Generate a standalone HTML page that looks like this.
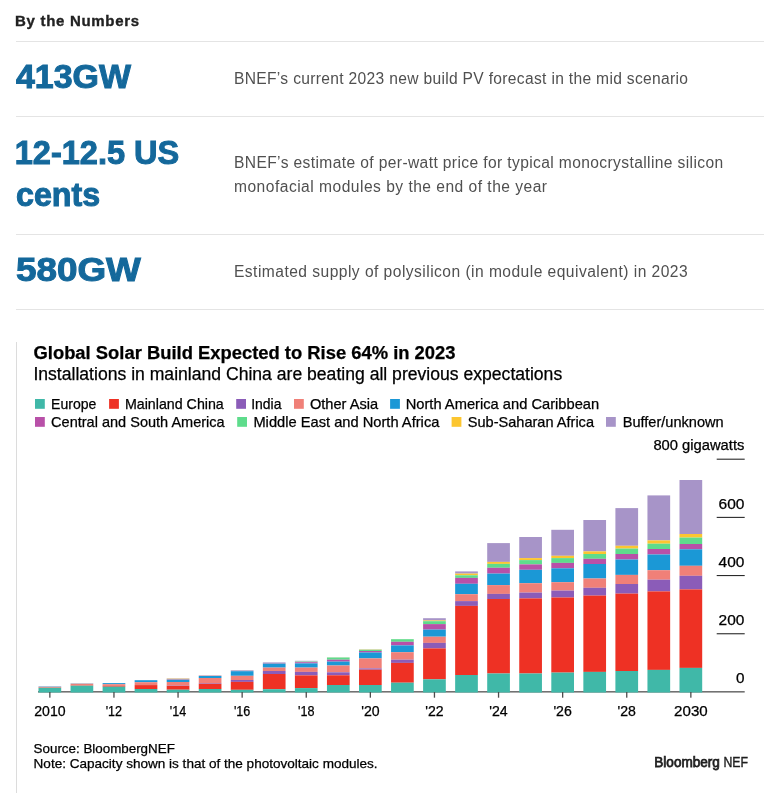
<!DOCTYPE html>
<html lang="en"><head><meta charset="utf-8"><title>By the Numbers</title>
<style>
html,body{margin:0;padding:0;background:#fff;}
body{width:769px;height:793px;position:relative;overflow:hidden;font-family:"Liberation Sans",Arial,Helvetica,sans-serif;}
.hd{position:absolute;left:15px;top:11px;font-size:15px;line-height:20px;font-weight:bold;color:#222;white-space:nowrap;letter-spacing:0.7px;-webkit-text-stroke:0.35px #222;}
.rule{position:absolute;left:16px;width:748px;height:1px;background:#e4e4e4;}
.num{position:absolute;left:15px;font-size:32.8px;line-height:42px;font-weight:bold;color:#14689b;white-space:nowrap;-webkit-text-stroke:1px #14689b;}
.num span{display:inline-block;transform-origin:0 50%;}
#n1{transform:translateX(1px) scaleX(1.033);}
#n2{transform:translateX(-0.3px) scaleX(0.992);}
#n3{transform:translateX(1px) scaleX(0.982);}
#n4{transform:translateX(1px) scaleX(1.123);}
#d1{letter-spacing:0.32px}#d2{letter-spacing:0.38px}#d3{letter-spacing:0.48px}#d4{letter-spacing:0.46px}
.desc{position:absolute;left:234px;font-size:15.6px;line-height:23.6px;color:#505050;white-space:nowrap;}
.chart{position:absolute;left:0;top:320px;display:block;}
</style></head><body>
<div class="hd">By the Numbers</div>
<div class="rule" style="top:41px"></div>
<div class="num" style="top:56.3px"><span id="n1">413GW</span></div>
<div class="desc" style="top:67px"><span id="d1">BNEF’s current 2023 new build PV forecast in the mid scenario</span></div>
<div class="rule" style="top:116px"></div>
<div class="num" style="top:131.6px"><span id="n2">12-12.5 US</span><br><span id="n3">cents</span></div>
<div class="desc" style="top:151px"><span id="d2">BNEF’s estimate of per-watt price for typical monocrystalline silicon</span><br><span id="d3">monofacial modules by the end of the year</span></div>
<div class="rule" style="top:234px"></div>
<div class="num" style="top:249.4px"><span id="n4">580GW</span></div>
<div class="desc" style="top:260px"><span id="d4">Estimated supply of polysilicon (in module equivalent) in 2023</span></div>
<div class="rule" style="top:309px"></div>
<svg class="chart" width="769" height="473" viewBox="0 320 769 473" font-family="'Liberation Sans', Arial, Helvetica, sans-serif">
<rect x="0" y="320" width="769" height="473" fill="#fff"/>
<rect x="16" y="342" width="1" height="451" fill="#dcdcdc"/>
<text x="33.5" y="358.8" font-size="18" font-weight="bold" textLength="422.0" lengthAdjust="spacingAndGlyphs" fill="#000" stroke="#000" stroke-width="0.25">Global Solar Build Expected to Rise 64% in 2023</text>
<text x="33.4" y="379.5" font-size="17.5" textLength="528.8" lengthAdjust="spacingAndGlyphs" fill="#000" stroke="#000" stroke-width="0.25">Installations in mainland China are beating all previous expectations</text>
<rect x="35.0" y="399" width="9.8" height="9.8" fill="#40b8a8"/>
<text x="51.1" y="408.6" font-size="14.4" textLength="45.3" lengthAdjust="spacingAndGlyphs" fill="#000" stroke="#000" stroke-width="0.25">Europe</text>
<rect x="109.1" y="399" width="9.8" height="9.8" fill="#ee3124"/>
<text x="124.9" y="408.6" font-size="14.4" textLength="98.9" lengthAdjust="spacingAndGlyphs" fill="#000" stroke="#000" stroke-width="0.25">Mainland China</text>
<rect x="236.2" y="399" width="9.8" height="9.8" fill="#8b5cb8"/>
<text x="251.2" y="408.6" font-size="14.4" textLength="30.3" lengthAdjust="spacingAndGlyphs" fill="#000" stroke="#000" stroke-width="0.25">India</text>
<rect x="294.0" y="399" width="9.8" height="9.8" fill="#f08078"/>
<text x="309.9" y="408.6" font-size="14.4" textLength="68.3" lengthAdjust="spacingAndGlyphs" fill="#000" stroke="#000" stroke-width="0.25">Other Asia</text>
<rect x="390.1" y="399" width="9.8" height="9.8" fill="#1b98d6"/>
<text x="405.7" y="408.6" font-size="14.4" textLength="193.5" lengthAdjust="spacingAndGlyphs" fill="#000" stroke="#000" stroke-width="0.25">North America and Caribbean</text>
<rect x="35.0" y="417" width="9.8" height="9.8" fill="#b850a8"/>
<text x="51.1" y="426.6" font-size="14.4" textLength="173.6" lengthAdjust="spacingAndGlyphs" fill="#000" stroke="#000" stroke-width="0.25">Central and South America</text>
<rect x="237.2" y="417" width="9.8" height="9.8" fill="#5edc8c"/>
<text x="253.4" y="426.6" font-size="14.4" textLength="186.0" lengthAdjust="spacingAndGlyphs" fill="#000" stroke="#000" stroke-width="0.25">Middle East and North Africa</text>
<rect x="451.6" y="417" width="9.8" height="9.8" fill="#fcc630"/>
<text x="467.8" y="426.6" font-size="14.4" textLength="126.2" lengthAdjust="spacingAndGlyphs" fill="#000" stroke="#000" stroke-width="0.25">Sub-Saharan Africa</text>
<rect x="606.0" y="417" width="9.8" height="9.8" fill="#a794c8"/>
<text x="622.7" y="426.6" font-size="14.4" textLength="101.0" lengthAdjust="spacingAndGlyphs" fill="#000" stroke="#000" stroke-width="0.25">Buffer/unknown</text>
<rect x="716.7" y="458.65" width="28" height="1.1" fill="#2a2a2a"/>
<text x="653.4" y="449.6" font-size="13.8" textLength="91.0" lengthAdjust="spacingAndGlyphs" fill="#000" stroke="#000" stroke-width="0.25">800 gigawatts</text>
<rect x="716.7" y="516.85" width="28" height="1.1" fill="#2a2a2a"/>
<text x="718.5" y="508.6" font-size="13.8" textLength="25.9" lengthAdjust="spacingAndGlyphs" fill="#000" stroke="#000" stroke-width="0.25">600</text>
<rect x="716.7" y="575.00" width="28" height="1.1" fill="#2a2a2a"/>
<text x="718.6" y="566.8" font-size="13.8" textLength="25.8" lengthAdjust="spacingAndGlyphs" fill="#000" stroke="#000" stroke-width="0.25">400</text>
<rect x="716.7" y="633.20" width="28" height="1.1" fill="#2a2a2a"/>
<text x="718.6" y="625.0" font-size="13.8" textLength="25.8" lengthAdjust="spacingAndGlyphs" fill="#000" stroke="#000" stroke-width="0.25">200</text>
<text x="735.9" y="683.1" font-size="13.8" textLength="8.5" lengthAdjust="spacingAndGlyphs" fill="#000" stroke="#000" stroke-width="0.25">0</text>
<rect x="38" y="691.25" width="706.7" height="1.2" fill="#444"/>
<rect x="38.50" y="686.3" width="22.7" height="0.3" fill="#a794c8"/>
<rect x="38.50" y="686.6" width="22.7" height="0.3" fill="#1b98d6"/>
<rect x="38.50" y="686.9" width="22.7" height="0.6" fill="#f08078"/>
<rect x="38.50" y="687.5" width="22.7" height="0.3" fill="#ee3124"/>
<rect x="38.50" y="687.8" width="22.7" height="4.7" fill="#40b8a8"/>
<rect x="70.55" y="683.4" width="22.7" height="0.3" fill="#1b98d6"/>
<rect x="70.55" y="683.7" width="22.7" height="1.6" fill="#f08078"/>
<rect x="70.55" y="685.3" width="22.7" height="0.4" fill="#ee3124"/>
<rect x="70.55" y="685.7" width="22.7" height="6.8" fill="#40b8a8"/>
<rect x="102.60" y="683.1" width="22.7" height="1.1" fill="#1b98d6"/>
<rect x="102.60" y="684.2" width="22.7" height="1.5" fill="#f08078"/>
<rect x="102.60" y="685.7" width="22.7" height="1.0" fill="#ee3124"/>
<rect x="102.60" y="686.7" width="22.7" height="5.8" fill="#40b8a8"/>
<rect x="134.65" y="680.2" width="22.7" height="2.0" fill="#1b98d6"/>
<rect x="134.65" y="682.2" width="22.7" height="2.8" fill="#f08078"/>
<rect x="134.65" y="685.0" width="22.7" height="0.1" fill="#8b5cb8"/>
<rect x="134.65" y="685.1" width="22.7" height="3.9" fill="#ee3124"/>
<rect x="134.65" y="689.0" width="22.7" height="3.5" fill="#40b8a8"/>
<rect x="166.70" y="678.3" width="22.7" height="0.4" fill="#a794c8"/>
<rect x="166.70" y="678.7" width="22.7" height="0.3" fill="#fcc630"/>
<rect x="166.70" y="679.0" width="22.7" height="0.4" fill="#5edc8c"/>
<rect x="166.70" y="679.4" width="22.7" height="0.5" fill="#b850a8"/>
<rect x="166.70" y="679.9" width="22.7" height="2.1" fill="#1b98d6"/>
<rect x="166.70" y="682.0" width="22.7" height="3.5" fill="#f08078"/>
<rect x="166.70" y="685.5" width="22.7" height="0.3" fill="#8b5cb8"/>
<rect x="166.70" y="685.8" width="22.7" height="3.9" fill="#ee3124"/>
<rect x="166.70" y="689.7" width="22.7" height="2.8" fill="#40b8a8"/>
<rect x="198.75" y="675.4" width="22.7" height="0.1" fill="#a794c8"/>
<rect x="198.75" y="675.5" width="22.7" height="0.1" fill="#fcc630"/>
<rect x="198.75" y="675.6" width="22.7" height="0.1" fill="#5edc8c"/>
<rect x="198.75" y="675.7" width="22.7" height="0.3" fill="#b850a8"/>
<rect x="198.75" y="676.0" width="22.7" height="2.0" fill="#1b98d6"/>
<rect x="198.75" y="678.0" width="22.7" height="5.2" fill="#f08078"/>
<rect x="198.75" y="683.2" width="22.7" height="0.6" fill="#8b5cb8"/>
<rect x="198.75" y="683.8" width="22.7" height="5.2" fill="#ee3124"/>
<rect x="198.75" y="689.0" width="22.7" height="3.5" fill="#40b8a8"/>
<rect x="230.80" y="670.2" width="22.7" height="0.6" fill="#a794c8"/>
<rect x="230.80" y="670.8" width="22.7" height="0.1" fill="#5edc8c"/>
<rect x="230.80" y="670.9" width="22.7" height="0.3" fill="#b850a8"/>
<rect x="230.80" y="671.2" width="22.7" height="4.6" fill="#1b98d6"/>
<rect x="230.80" y="675.8" width="22.7" height="4.2" fill="#f08078"/>
<rect x="230.80" y="680.0" width="22.7" height="1.9" fill="#8b5cb8"/>
<rect x="230.80" y="681.9" width="22.7" height="7.9" fill="#ee3124"/>
<rect x="230.80" y="689.8" width="22.7" height="2.7" fill="#40b8a8"/>
<rect x="262.85" y="662.4" width="22.7" height="0.6" fill="#a794c8"/>
<rect x="262.85" y="663.0" width="22.7" height="0.2" fill="#5edc8c"/>
<rect x="262.85" y="663.2" width="22.7" height="0.5" fill="#b850a8"/>
<rect x="262.85" y="663.7" width="22.7" height="3.9" fill="#1b98d6"/>
<rect x="262.85" y="667.6" width="22.7" height="3.4" fill="#f08078"/>
<rect x="262.85" y="671.0" width="22.7" height="3.0" fill="#8b5cb8"/>
<rect x="262.85" y="674.0" width="22.7" height="15.2" fill="#ee3124"/>
<rect x="262.85" y="689.2" width="22.7" height="3.2" fill="#40b8a8"/>
<rect x="294.90" y="660.8" width="22.7" height="0.8" fill="#a794c8"/>
<rect x="294.90" y="661.6" width="22.7" height="0.1" fill="#fcc630"/>
<rect x="294.90" y="661.7" width="22.7" height="0.5" fill="#5edc8c"/>
<rect x="294.90" y="662.2" width="22.7" height="1.2" fill="#b850a8"/>
<rect x="294.90" y="663.4" width="22.7" height="4.2" fill="#1b98d6"/>
<rect x="294.90" y="667.6" width="22.7" height="4.3" fill="#f08078"/>
<rect x="294.90" y="671.9" width="22.7" height="3.5" fill="#8b5cb8"/>
<rect x="294.90" y="675.4" width="22.7" height="12.7" fill="#ee3124"/>
<rect x="294.90" y="688.1" width="22.7" height="4.4" fill="#40b8a8"/>
<rect x="326.95" y="657.3" width="22.7" height="0.1" fill="#a794c8"/>
<rect x="326.95" y="657.4" width="22.7" height="0.1" fill="#fcc630"/>
<rect x="326.95" y="657.5" width="22.7" height="2.2" fill="#5edc8c"/>
<rect x="326.95" y="659.7" width="22.7" height="1.9" fill="#b850a8"/>
<rect x="326.95" y="661.6" width="22.7" height="3.9" fill="#1b98d6"/>
<rect x="326.95" y="665.5" width="22.7" height="6.8" fill="#f08078"/>
<rect x="326.95" y="672.3" width="22.7" height="3.0" fill="#8b5cb8"/>
<rect x="326.95" y="675.3" width="22.7" height="9.7" fill="#ee3124"/>
<rect x="326.95" y="685.0" width="22.7" height="7.5" fill="#40b8a8"/>
<rect x="359.00" y="649.3" width="22.7" height="0.2" fill="#a794c8"/>
<rect x="359.00" y="649.5" width="22.7" height="0.3" fill="#fcc630"/>
<rect x="359.00" y="649.8" width="22.7" height="1.2" fill="#5edc8c"/>
<rect x="359.00" y="651.0" width="22.7" height="1.5" fill="#b850a8"/>
<rect x="359.00" y="652.5" width="22.7" height="5.9" fill="#1b98d6"/>
<rect x="359.00" y="658.4" width="22.7" height="10.0" fill="#f08078"/>
<rect x="359.00" y="668.4" width="22.7" height="1.3" fill="#8b5cb8"/>
<rect x="359.00" y="669.7" width="22.7" height="15.3" fill="#ee3124"/>
<rect x="359.00" y="685.0" width="22.7" height="7.5" fill="#40b8a8"/>
<rect x="391.05" y="639.0" width="22.7" height="0.1" fill="#a794c8"/>
<rect x="391.05" y="639.1" width="22.7" height="0.1" fill="#fcc630"/>
<rect x="391.05" y="639.2" width="22.7" height="2.6" fill="#5edc8c"/>
<rect x="391.05" y="641.8" width="22.7" height="3.6" fill="#b850a8"/>
<rect x="391.05" y="645.4" width="22.7" height="6.8" fill="#1b98d6"/>
<rect x="391.05" y="652.2" width="22.7" height="7.5" fill="#f08078"/>
<rect x="391.05" y="659.7" width="22.7" height="3.2" fill="#8b5cb8"/>
<rect x="391.05" y="662.9" width="22.7" height="19.8" fill="#ee3124"/>
<rect x="391.05" y="682.7" width="22.7" height="9.8" fill="#40b8a8"/>
<rect x="423.10" y="618.2" width="22.7" height="2.3" fill="#a794c8"/>
<rect x="423.10" y="620.5" width="22.7" height="0.7" fill="#fcc630"/>
<rect x="423.10" y="621.2" width="22.7" height="2.9" fill="#5edc8c"/>
<rect x="423.10" y="624.1" width="22.7" height="5.5" fill="#b850a8"/>
<rect x="423.10" y="629.6" width="22.7" height="7.1" fill="#1b98d6"/>
<rect x="423.10" y="636.7" width="22.7" height="6.2" fill="#f08078"/>
<rect x="423.10" y="642.9" width="22.7" height="5.5" fill="#8b5cb8"/>
<rect x="423.10" y="648.4" width="22.7" height="30.9" fill="#ee3124"/>
<rect x="423.10" y="679.3" width="22.7" height="13.2" fill="#40b8a8"/>
<rect x="455.15" y="571.4" width="22.7" height="2.2" fill="#a794c8"/>
<rect x="455.15" y="573.6" width="22.7" height="1.7" fill="#fcc630"/>
<rect x="455.15" y="575.3" width="22.7" height="2.6" fill="#5edc8c"/>
<rect x="455.15" y="577.9" width="22.7" height="5.9" fill="#b850a8"/>
<rect x="455.15" y="583.8" width="22.7" height="10.4" fill="#1b98d6"/>
<rect x="455.15" y="594.2" width="22.7" height="6.9" fill="#f08078"/>
<rect x="455.15" y="601.1" width="22.7" height="4.8" fill="#8b5cb8"/>
<rect x="455.15" y="605.9" width="22.7" height="69.1" fill="#ee3124"/>
<rect x="455.15" y="675.0" width="22.7" height="17.5" fill="#40b8a8"/>
<rect x="487.20" y="543.1" width="22.7" height="18.8" fill="#a794c8"/>
<rect x="487.20" y="561.9" width="22.7" height="2.0" fill="#fcc630"/>
<rect x="487.20" y="563.9" width="22.7" height="3.9" fill="#5edc8c"/>
<rect x="487.20" y="567.8" width="22.7" height="5.8" fill="#b850a8"/>
<rect x="487.20" y="573.6" width="22.7" height="11.5" fill="#1b98d6"/>
<rect x="487.20" y="585.1" width="22.7" height="8.8" fill="#f08078"/>
<rect x="487.20" y="593.9" width="22.7" height="5.1" fill="#8b5cb8"/>
<rect x="487.20" y="599.0" width="22.7" height="74.5" fill="#ee3124"/>
<rect x="487.20" y="673.5" width="22.7" height="19.0" fill="#40b8a8"/>
<rect x="519.25" y="537.0" width="22.7" height="21.1" fill="#a794c8"/>
<rect x="519.25" y="558.1" width="22.7" height="2.0" fill="#fcc630"/>
<rect x="519.25" y="560.1" width="22.7" height="4.3" fill="#5edc8c"/>
<rect x="519.25" y="564.4" width="22.7" height="5.4" fill="#b850a8"/>
<rect x="519.25" y="569.8" width="22.7" height="13.4" fill="#1b98d6"/>
<rect x="519.25" y="583.2" width="22.7" height="9.4" fill="#f08078"/>
<rect x="519.25" y="592.6" width="22.7" height="5.8" fill="#8b5cb8"/>
<rect x="519.25" y="598.4" width="22.7" height="75.1" fill="#ee3124"/>
<rect x="519.25" y="673.5" width="22.7" height="19.0" fill="#40b8a8"/>
<rect x="551.30" y="529.8" width="22.7" height="26.0" fill="#a794c8"/>
<rect x="551.30" y="555.8" width="22.7" height="2.3" fill="#fcc630"/>
<rect x="551.30" y="558.1" width="22.7" height="4.8" fill="#5edc8c"/>
<rect x="551.30" y="562.9" width="22.7" height="5.4" fill="#b850a8"/>
<rect x="551.30" y="568.3" width="22.7" height="13.9" fill="#1b98d6"/>
<rect x="551.30" y="582.2" width="22.7" height="8.4" fill="#f08078"/>
<rect x="551.30" y="590.6" width="22.7" height="6.9" fill="#8b5cb8"/>
<rect x="551.30" y="597.5" width="22.7" height="75.1" fill="#ee3124"/>
<rect x="551.30" y="672.6" width="22.7" height="19.9" fill="#40b8a8"/>
<rect x="583.35" y="520.0" width="22.7" height="31.4" fill="#a794c8"/>
<rect x="583.35" y="551.4" width="22.7" height="2.6" fill="#fcc630"/>
<rect x="583.35" y="554.0" width="22.7" height="4.8" fill="#5edc8c"/>
<rect x="583.35" y="558.8" width="22.7" height="5.2" fill="#b850a8"/>
<rect x="583.35" y="564.0" width="22.7" height="14.5" fill="#1b98d6"/>
<rect x="583.35" y="578.5" width="22.7" height="9.3" fill="#f08078"/>
<rect x="583.35" y="587.8" width="22.7" height="7.8" fill="#8b5cb8"/>
<rect x="583.35" y="595.6" width="22.7" height="76.3" fill="#ee3124"/>
<rect x="583.35" y="671.9" width="22.7" height="20.6" fill="#40b8a8"/>
<rect x="615.40" y="508.1" width="22.7" height="37.7" fill="#a794c8"/>
<rect x="615.40" y="545.8" width="22.7" height="2.8" fill="#fcc630"/>
<rect x="615.40" y="548.6" width="22.7" height="5.4" fill="#5edc8c"/>
<rect x="615.40" y="554.0" width="22.7" height="5.5" fill="#b850a8"/>
<rect x="615.40" y="559.5" width="22.7" height="15.4" fill="#1b98d6"/>
<rect x="615.40" y="574.9" width="22.7" height="9.1" fill="#f08078"/>
<rect x="615.40" y="584.0" width="22.7" height="9.6" fill="#8b5cb8"/>
<rect x="615.40" y="593.6" width="22.7" height="77.4" fill="#ee3124"/>
<rect x="615.40" y="671.0" width="22.7" height="21.5" fill="#40b8a8"/>
<rect x="647.45" y="495.4" width="22.7" height="45.0" fill="#a794c8"/>
<rect x="647.45" y="540.4" width="22.7" height="3.3" fill="#fcc630"/>
<rect x="647.45" y="543.7" width="22.7" height="5.3" fill="#5edc8c"/>
<rect x="647.45" y="549.0" width="22.7" height="5.5" fill="#b850a8"/>
<rect x="647.45" y="554.5" width="22.7" height="15.7" fill="#1b98d6"/>
<rect x="647.45" y="570.2" width="22.7" height="9.5" fill="#f08078"/>
<rect x="647.45" y="579.7" width="22.7" height="11.7" fill="#8b5cb8"/>
<rect x="647.45" y="591.4" width="22.7" height="78.5" fill="#ee3124"/>
<rect x="647.45" y="669.9" width="22.7" height="22.6" fill="#40b8a8"/>
<rect x="679.50" y="480.0" width="22.7" height="54.0" fill="#a794c8"/>
<rect x="679.50" y="534.0" width="22.7" height="3.6" fill="#fcc630"/>
<rect x="679.50" y="537.6" width="22.7" height="6.4" fill="#5edc8c"/>
<rect x="679.50" y="544.0" width="22.7" height="5.3" fill="#b850a8"/>
<rect x="679.50" y="549.3" width="22.7" height="16.5" fill="#1b98d6"/>
<rect x="679.50" y="565.8" width="22.7" height="10.0" fill="#f08078"/>
<rect x="679.50" y="575.8" width="22.7" height="13.6" fill="#8b5cb8"/>
<rect x="679.50" y="589.4" width="22.7" height="78.5" fill="#ee3124"/>
<rect x="679.50" y="667.9" width="22.7" height="24.6" fill="#40b8a8"/>
<rect x="49.2" y="692" width="1.3" height="5.7" fill="#4d4d4d"/>
<text x="34.2" y="716.0" font-size="14" textLength="31.4" lengthAdjust="spacingAndGlyphs" fill="#000" stroke="#000" stroke-width="0.25">2010</text>
<rect x="113.3" y="692" width="1.3" height="5.7" fill="#4d4d4d"/>
<text x="105.7" y="716.0" font-size="14" textLength="16.4" lengthAdjust="spacingAndGlyphs" fill="#000" stroke="#000" stroke-width="0.25">'12</text>
<rect x="177.4" y="692" width="1.3" height="5.7" fill="#4d4d4d"/>
<text x="169.8" y="716.0" font-size="14" textLength="16.4" lengthAdjust="spacingAndGlyphs" fill="#000" stroke="#000" stroke-width="0.25">'14</text>
<rect x="241.5" y="692" width="1.3" height="5.7" fill="#4d4d4d"/>
<text x="233.9" y="716.0" font-size="14" textLength="16.4" lengthAdjust="spacingAndGlyphs" fill="#000" stroke="#000" stroke-width="0.25">'16</text>
<rect x="305.6" y="692" width="1.3" height="5.7" fill="#4d4d4d"/>
<text x="298.1" y="716.0" font-size="14" textLength="16.4" lengthAdjust="spacingAndGlyphs" fill="#000" stroke="#000" stroke-width="0.25">'18</text>
<rect x="369.7" y="692" width="1.3" height="5.7" fill="#4d4d4d"/>
<text x="361.2" y="716.0" font-size="14" textLength="18.4" lengthAdjust="spacingAndGlyphs" fill="#000" stroke="#000" stroke-width="0.25">'20</text>
<rect x="433.8" y="692" width="1.3" height="5.7" fill="#4d4d4d"/>
<text x="425.2" y="716.0" font-size="14" textLength="18.4" lengthAdjust="spacingAndGlyphs" fill="#000" stroke="#000" stroke-width="0.25">'22</text>
<rect x="497.9" y="692" width="1.3" height="5.7" fill="#4d4d4d"/>
<text x="489.3" y="716.0" font-size="14" textLength="18.4" lengthAdjust="spacingAndGlyphs" fill="#000" stroke="#000" stroke-width="0.25">'24</text>
<rect x="562.0" y="692" width="1.3" height="5.7" fill="#4d4d4d"/>
<text x="553.4" y="716.0" font-size="14" textLength="18.4" lengthAdjust="spacingAndGlyphs" fill="#000" stroke="#000" stroke-width="0.25">'26</text>
<rect x="626.1" y="692" width="1.3" height="5.7" fill="#4d4d4d"/>
<text x="617.5" y="716.0" font-size="14" textLength="18.4" lengthAdjust="spacingAndGlyphs" fill="#000" stroke="#000" stroke-width="0.25">'28</text>
<rect x="690.2" y="692" width="1.3" height="5.7" fill="#4d4d4d"/>
<text x="674.1" y="716.0" font-size="14" textLength="33.6" lengthAdjust="spacingAndGlyphs" fill="#000" stroke="#000" stroke-width="0.25">2030</text>
<text x="33.6" y="753.0" font-size="13.4" textLength="141.2" lengthAdjust="spacingAndGlyphs" fill="#000" stroke="#000" stroke-width="0.25">Source: BloombergNEF</text>
<text x="33.6" y="768.1" font-size="13.4" textLength="344.0" lengthAdjust="spacingAndGlyphs" fill="#000" stroke="#000" stroke-width="0.25">Note: Capacity shown is that of the photovoltaic modules.</text>
<text x="654.3" y="767.3" font-size="14.2" textLength="65.6" lengthAdjust="spacingAndGlyphs" fill="#1e1e1e" stroke="#1e1e1e" stroke-width="0.75">Bloomberg</text>
<text x="723.4" y="767.3" font-size="14.2" textLength="24.6" lengthAdjust="spacingAndGlyphs" fill="#1e1e1e" stroke="#1e1e1e" stroke-width="0.4">NEF</text>
</svg>
</body></html>
